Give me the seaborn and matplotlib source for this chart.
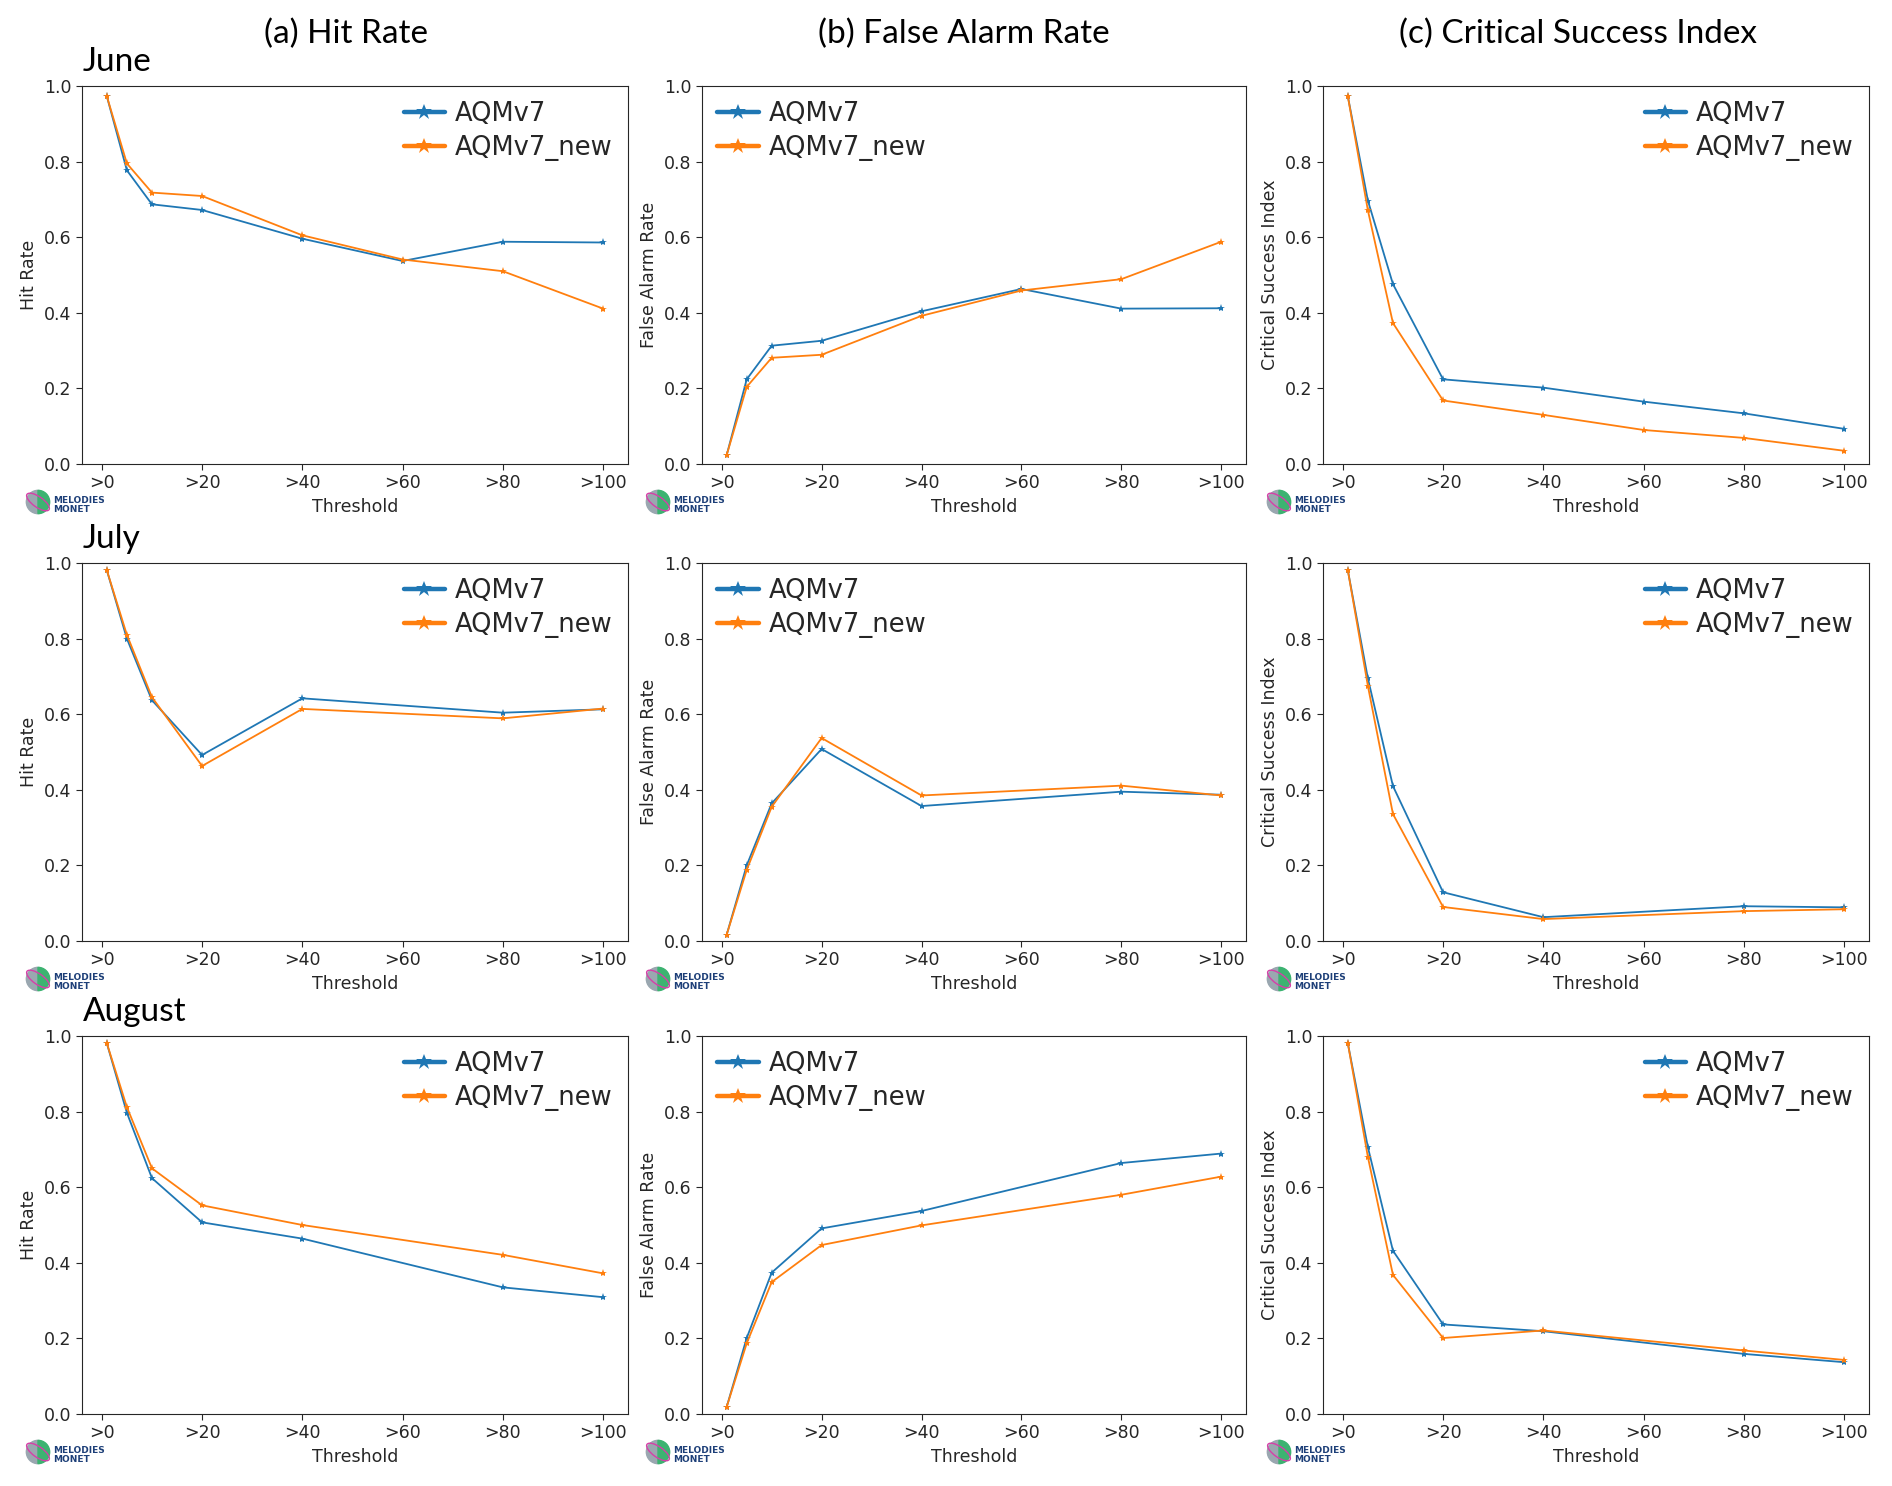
import numpy as np
import pandas as pd
import matplotlib.pyplot as plt
import seaborn as sns
from matplotlib.lines import Line2D
from matplotlib.patches import Wedge, Ellipse

sns.set_style("ticks")
plt.rcParams['font.family'] = ['DejaVu Sans']

models = ["AQMv7", "AQMv7_new"]
colors = ["#1f77b4", "#ff7f0e"]
months = ["June", "July", "August"]
metric_titles = ["(a) Hit Rate", "(b) False Alarm Rate", "(c) Critical Success Index"]
metric_labels = ["Hit Rate", "False Alarm Rate", "Critical Success Index"]
tick_pos = [0, 20, 40, 60, 80, 100]
tick_labels = [">0", ">20", ">40", ">60", ">80", ">100"]

# thresholds used in each month
june_x = [1, 5, 10, 20, 40, 60, 80, 100]
july_x = [1, 5, 10, 20, 40, 80, 100]
aug_x = [1, 5, 10, 20, 40, 80, 100]

# June
june_hr_v7 = [0.973, 0.777, 0.687, 0.672, 0.596, 0.537, 0.588, 0.586]
june_hr_new = [0.973, 0.795, 0.718, 0.709, 0.605, 0.541, 0.510, 0.411]
june_far_v7 = [0.024, 0.224, 0.313, 0.326, 0.404, 0.463, 0.411, 0.412]
june_far_new = [0.024, 0.204, 0.281, 0.289, 0.392, 0.459, 0.489, 0.588]
june_csi_v7 = [0.973, 0.697, 0.476, 0.224, 0.202, 0.165, 0.134, 0.093]
june_csi_new = [0.973, 0.671, 0.373, 0.168, 0.130, 0.090, 0.069, 0.035]

# July
july_hr_v7 = [0.981, 0.800, 0.637, 0.492, 0.642, 0.604, 0.613]
july_hr_new = [0.981, 0.810, 0.645, 0.463, 0.614, 0.589, 0.615]
july_far_v7 = [0.017, 0.200, 0.364, 0.508, 0.357, 0.395, 0.387]
july_far_new = [0.017, 0.188, 0.355, 0.537, 0.385, 0.411, 0.385]
july_csi_v7 = [0.981, 0.695, 0.410, 0.129, 0.063, 0.092, 0.089]
july_csi_new = [0.981, 0.675, 0.336, 0.090, 0.058, 0.079, 0.084]

# August
aug_hr_v7 = [0.981, 0.797, 0.624, 0.507, 0.464, 0.335, 0.309]
aug_hr_new = [0.981, 0.812, 0.650, 0.552, 0.500, 0.421, 0.372]
aug_far_v7 = [0.019, 0.201, 0.374, 0.491, 0.537, 0.664, 0.689]
aug_far_new = [0.019, 0.187, 0.349, 0.447, 0.499, 0.580, 0.628]
aug_csi_v7 = [0.981, 0.706, 0.432, 0.237, 0.219, 0.159, 0.137]
aug_csi_new = [0.981, 0.680, 0.368, 0.201, 0.221, 0.168, 0.143]

panels = [
    [(june_x, june_hr_v7, june_hr_new), (june_x, june_far_v7, june_far_new), (june_x, june_csi_v7, june_csi_new)],
    [(july_x, july_hr_v7, july_hr_new), (july_x, july_far_v7, july_far_new), (july_x, july_csi_v7, july_csi_new)],
    [(aug_x, aug_hr_v7, aug_hr_new), (aug_x, aug_far_v7, aug_far_new), (aug_x, aug_csi_v7, aug_csi_new)],
]


def make_df(x, v7, new):
    return pd.DataFrame({
        "Threshold": list(x) + list(x),
        "value": list(v7) + list(new),
        "model": [models[0]] * len(x) + [models[1]] * len(x),
    })


W, H = 1892, 1486
fig = plt.figure(figsize=(W / 100, H / 100), dpi=100)

col_left = [82 / W, 702 / W, 1323 / W]
col_w = [546 / W, 544 / W, 546 / W]
row_top = [86, 563, 1036]
row_h = 378 / H


def add_logo(ax):
    pos = ax.get_position()
    lax = fig.add_axes([pos.x0 - 58 / W, pos.y0 - 52 / H, 28 / W, 28 / H])
    lax.set_xlim(-1.2, 1.2)
    lax.set_ylim(-1.2, 1.2)
    lax.set_aspect("equal")
    lax.axis("off")
    lax.add_patch(Wedge((0, 0), 1, 90, 270, color="#9aa7b0"))
    lax.add_patch(Wedge((0, 0), 1, -90, 90, color="#3cb371"))
    lax.add_patch(Ellipse((0, 0), 2.3, 0.9, angle=-35, fill=False, ec="#d63fa8", lw=1))
    fig.text(pos.x0 - 29 / W, pos.y0 - 41 / H, "MELODIES\nMONET", fontsize=6.5,
             fontweight="bold", color="#1d3f78", va="center", ha="left", linespacing=0.9)


for r in range(3):
    for c in range(3):
        ax = fig.add_axes([col_left[c], 1 - (row_top[r] + 378) / H, col_w[c], row_h])
        x, v7, new = panels[r][c]
        df = make_df(x, v7, new)
        sns.lineplot(data=df, x="Threshold", y="value", hue="model", palette=colors,
                     marker="*", markersize=6, markeredgewidth=0, linewidth=1.3,
                     legend=False, ax=ax)
        ax.set_ylim(0, 1.0)
        ax.set_xticks(tick_pos)
        ax.set_xticklabels(tick_labels)
        ax.set_yticks([0, 0.2, 0.4, 0.6, 0.8, 1.0])
        ax.tick_params(labelsize=12.5, color="0.15", length=4)
        ax.set_xlabel("Threshold", fontsize=12.5)
        ax.set_ylabel(metric_labels[c], fontsize=12.5)
        handles = [Line2D([], [], color=col, lw=3.2, marker="*", markersize=12,
                          markeredgewidth=0) for col in colors]
        ax.legend(handles, models, loc="upper left" if c == 1 else "upper right",
                  fontsize=18.5, frameon=False, handlelength=1.6, handletextpad=0.4,
                  labelspacing=0.3, borderaxespad=0.2)
        add_logo(ax)

title_x = [0.183, 0.5096, 0.834]
for c in range(3):
    fig.text(title_x[c], 1 - 34 / H, metric_titles[c], fontsize=24, ha="center",
             va="center", family=["Lato", "DejaVu Sans"], color="black")

for r in range(3):
    fig.text(83 / W, 1 - (row_top[r] - 24) / H, months[r], fontsize=24, ha="left",
             va="center", family=["Lato", "DejaVu Sans"], color="black")

fig.savefig("out.png", dpi=100)
